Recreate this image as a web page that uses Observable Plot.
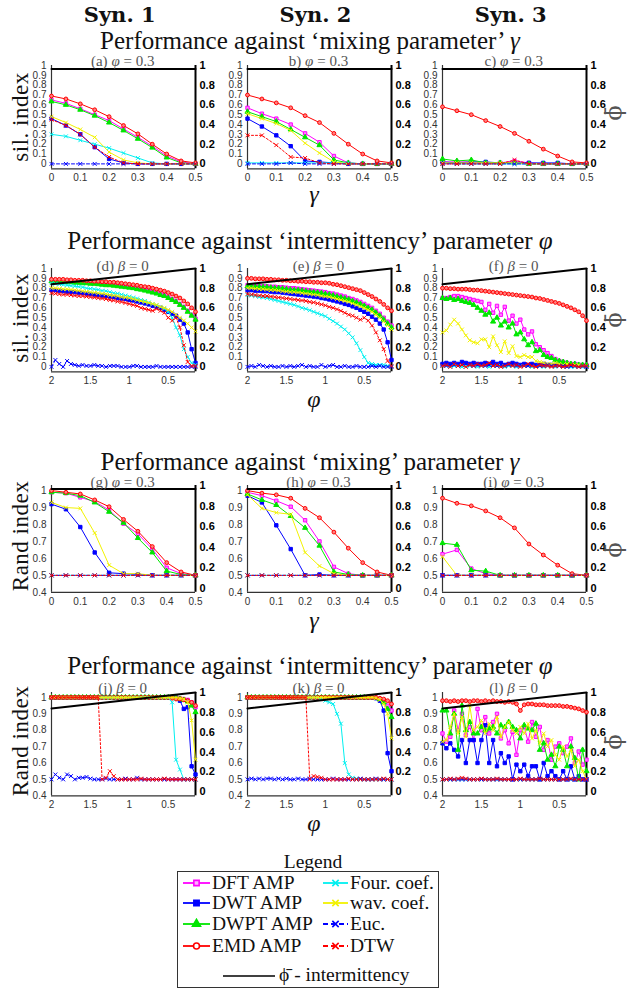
<!DOCTYPE html>
<html><head><meta charset="utf-8">
<script src="https://cdn.jsdelivr.net/npm/d3@7"></script>
<script src="https://cdn.jsdelivr.net/npm/@observablehq/plot@0.6"></script>
<style>
body{margin:0;background:#fff}
#root{position:relative;width:633px;height:990px;overflow:hidden;background:#fff}
.t{position:absolute;white-space:nowrap;line-height:1;transform:translate(-50%,-50%);font-family:"Liberation Serif","DejaVu Serif",serif;color:#111}
.l{position:absolute;white-space:nowrap;line-height:1;transform:translate(0,-50%);font-family:"Liberation Serif","DejaVu Serif",serif;color:#111;font-size:19.5px}
svg.p{position:absolute}
</style></head><body><div id="root"></div>
<script>
// ---------- axis values ----------
const mixX = [0,0.05,0.1,0.15,0.2,0.25,0.3,0.35,0.4,0.45,0.5];
const intX = [2,1.95,1.9,1.85,1.8,1.75,1.7,1.65,1.6,1.55,1.5,1.45,1.4,1.35,1.3,1.25,1.2,1.15,1.1,1.05,1,0.95,0.9,0.85,0.8,0.75,0.7,0.65,0.6,0.55,0.5,0.45,0.4,0.35,0.3,0.25,0.2,0.15];
const mixTicks = [0,0.1,0.2,0.3,0.4,0.5];
const intTicks = [2,1.5,1,0.5];
const silTicks = [0,0.1,0.2,0.3,0.4,0.5,0.6,0.7,0.8,0.9,1];
const randTicks = [0.4,0.5,0.6,0.7,0.8,0.9,1];
const phiTicks = [0,0.2,0.4,0.6,0.8,1];
const phiMixX = [0,0.5], phiMixVal = [0.965,0.965];
const phiIntX = [2,0.15], phiIntVal = [0.84,1.0];

// ---------- text ----------
const synLabels = ["Syn. 1","Syn. 2","Syn. 3"];
const rowTitles = ["Performance against ‘mixing parameter’ <i>γ</i>","Performance against ‘intermittency’ parameter <i>φ</i>","Performance against ‘mixing’ parameter <i>γ</i>","Performance against ‘intermittency’ parameter <i>φ</i>"];
const panelTitles = ["(a) <i>φ</i> = 0.3","b) <i>φ</i> = 0.3","c) <i>φ</i> = 0.3","(d) <i>β</i> = 0","(e) <i>β</i> = 0","(f) <i>β</i> = 0","(g) <i>φ</i> = 0.3","(h) <i>φ</i> = 0.3","(i) <i>φ</i> = 0.3","(j) <i>β</i> = 0","(k) <i>β</i> = 0","(l) <i>β</i> = 0"];
const yLabels = ["sil. index","sil. index","Rand index","Rand index"];
const xLabels = ["γ","φ","γ","φ"];
const methodNames = ["DFT AMP","DWT AMP","DWPT AMP","EMD AMP","Four. coef.","wav. coef.","Euc.","DTW"];
const phiLegend = "ϕ̄ - intermittency";

// ---------- (a) sil, mixing, Syn1 ----------
const a_DFT  = [0.65,0.615,0.56,0.50,0.44,0.355,0.27,0.18,0.08,0.02,0.0];
const a_DWT  = [0.46,0.39,0.30,0.17,0.05,0.01,0.0,0.0,0.0,0.0,0.0];
const a_DWPT = [0.635,0.60,0.55,0.49,0.42,0.34,0.255,0.165,0.065,0.01,0.0];
const a_EMD  = [0.69,0.66,0.61,0.55,0.48,0.39,0.305,0.20,0.10,0.03,0.01];
const a_Four = [0.30,0.28,0.24,0.20,0.16,0.11,0.06,0.01,0.0,0.0,0.0];
const a_wav  = [0.48,0.42,0.35,0.27,0.12,0.04,0.01,0.0,0.0,0.0,0.0];
const a_Euc  = [0,0,0,0,0,0,0,0,0,0,0];
const a_DTW  = [0.45,0.39,0.30,0.17,0.07,0.01,0,0,0,0,0];
// ---------- (b) ----------
const b_DFT  = [0.57,0.51,0.46,0.40,0.31,0.22,0.08,0.01,0.0,0.0,0.0];
const b_DWT  = [0.46,0.38,0.29,0.18,0.03,0.02,0.01,0.0,0.0,0.0,0.0];
const b_DWPT = [0.53,0.48,0.43,0.35,0.27,0.19,0.04,0.01,0.0,0.0,0.0];
const b_EMD  = [0.70,0.66,0.62,0.57,0.49,0.42,0.31,0.20,0.10,0.03,0.01];
const b_Four = [0.01,0.01,0.01,0.01,0.01,0.01,0.01,0.01,0.0,0.0,0.0];
const b_wav  = [0.51,0.46,0.41,0.34,0.21,0.11,0.02,0.0,0.0,0.0,0.0];
const b_Euc  = [0,0,0,0.01,0,0,0,0,0,0,0];
const b_DTW  = [0.29,0.29,0.19,0.07,0.06,0.01,0.0,0.0,0.0,0.0,0.0];
// ---------- (c) ----------
const c_DFT  = [0.02,0.02,0.02,0.01,0.01,0.03,0.01,0.0,0.0,0.0,0.0];
const c_DWT  = [0.02,0.01,0.02,0.02,0.01,0.01,0.01,0.01,0.01,0.0,0.0];
const c_DWPT = [0.05,0.03,0.04,0.01,0.01,0.01,0.0,0.0,0.0,0.0,0.0];
const c_EMD  = [0.58,0.54,0.50,0.44,0.38,0.31,0.23,0.15,0.08,0.02,0.01];
const c_Four = [0.01,0,0,0,0,0,0,0,0,0,0];
const c_wav  = [0.01,0.01,0.01,0.01,0.01,0.01,0.0,0.0,0.0,0.0,0.0];
const c_Euc  = [0,0,0,0,0,0,0,0,0,0,0];
const c_DTW  = [0.0,0.0,0.0,0.0,0.0,0.04,0.0,0.0,0.0,0.0,0.0];
// ---------- (d) sil, intermittency, Syn1 ----------
const d_DFT  = [0.875,0.875,0.87,0.87,0.87,0.865,0.865,0.86,0.86,0.855,0.855,0.85,0.85,0.845,0.84,0.84,0.835,0.83,0.825,0.82,0.815,0.81,0.80,0.795,0.785,0.775,0.765,0.755,0.74,0.73,0.71,0.69,0.67,0.64,0.61,0.57,0.53,0.49];
const d_DWT  = [0.78,0.78,0.775,0.77,0.765,0.76,0.76,0.755,0.75,0.745,0.74,0.735,0.73,0.725,0.72,0.715,0.71,0.70,0.695,0.69,0.68,0.675,0.665,0.655,0.645,0.635,0.62,0.61,0.60,0.58,0.56,0.54,0.52,0.48,0.44,0.35,0.18,0.04];
const d_DWPT = [0.87,0.87,0.865,0.865,0.86,0.86,0.855,0.855,0.85,0.85,0.845,0.845,0.84,0.835,0.83,0.83,0.825,0.82,0.815,0.81,0.805,0.80,0.79,0.785,0.775,0.765,0.755,0.745,0.73,0.72,0.70,0.68,0.66,0.63,0.60,0.56,0.52,0.48];
const d_EMD  = [0.89,0.89,0.89,0.89,0.885,0.885,0.88,0.88,0.88,0.875,0.875,0.87,0.87,0.865,0.865,0.86,0.86,0.855,0.85,0.845,0.84,0.835,0.83,0.82,0.815,0.81,0.80,0.79,0.78,0.77,0.755,0.74,0.72,0.70,0.67,0.64,0.60,0.56];
const d_Four = [0.85,0.845,0.84,0.835,0.83,0.825,0.82,0.815,0.81,0.80,0.795,0.79,0.785,0.775,0.77,0.76,0.75,0.745,0.735,0.725,0.715,0.705,0.695,0.68,0.67,0.655,0.64,0.625,0.61,0.59,0.56,0.50,0.40,0.32,0.18,0.10,0.04,0.02];
const d_wav  = [0.80,0.80,0.795,0.79,0.79,0.785,0.78,0.775,0.77,0.765,0.76,0.755,0.75,0.745,0.74,0.73,0.725,0.72,0.71,0.705,0.70,0.69,0.68,0.67,0.66,0.65,0.64,0.63,0.61,0.60,0.58,0.56,0.53,0.50,0.47,0.44,0.40,0.36];
const d_Euc  = [0.0,0.07,0.03,0.0,0.06,0.03,0.02,0.01,0.02,0.01,0.01,0.02,0.01,0.01,0.0,0.01,0.01,0.01,0.0,0.0,0.0,0.01,0.01,0.0,0.0,0.0,0.0,0.01,0.0,0.0,0.0,0.0,0.0,0.0,0.0,0.0,0.0,0.0];
const d_DTW  = [0.75,0.745,0.74,0.735,0.735,0.73,0.725,0.72,0.72,0.715,0.71,0.705,0.70,0.695,0.69,0.68,0.675,0.665,0.66,0.65,0.64,0.63,0.62,0.60,0.59,0.58,0.57,0.59,0.57,0.55,0.50,0.47,0.50,0.40,0.22,0.05,0.01,0.01];
// ---------- (e) ----------
const e_DFT  = [0.83,0.83,0.825,0.825,0.82,0.82,0.815,0.815,0.81,0.81,0.805,0.80,0.80,0.795,0.79,0.785,0.78,0.775,0.77,0.765,0.76,0.75,0.745,0.735,0.725,0.715,0.70,0.69,0.675,0.66,0.64,0.62,0.60,0.57,0.54,0.50,0.46,0.42];
const e_DWT  = [0.78,0.78,0.775,0.775,0.77,0.77,0.765,0.76,0.76,0.755,0.75,0.745,0.74,0.735,0.73,0.725,0.72,0.715,0.71,0.70,0.695,0.685,0.675,0.665,0.655,0.64,0.63,0.615,0.60,0.58,0.56,0.54,0.51,0.48,0.44,0.38,0.25,0.07];
const e_DWPT = [0.82,0.82,0.815,0.815,0.81,0.81,0.805,0.80,0.80,0.795,0.79,0.785,0.78,0.78,0.775,0.77,0.765,0.76,0.755,0.75,0.74,0.735,0.725,0.715,0.705,0.695,0.685,0.67,0.655,0.64,0.62,0.60,0.58,0.55,0.52,0.48,0.44,0.40];
const e_EMD  = [0.90,0.90,0.895,0.895,0.895,0.89,0.89,0.885,0.885,0.88,0.88,0.875,0.875,0.87,0.87,0.865,0.865,0.86,0.86,0.855,0.855,0.85,0.84,0.835,0.825,0.815,0.805,0.795,0.785,0.775,0.755,0.735,0.715,0.69,0.665,0.635,0.60,0.57];
const e_Four = [0.73,0.725,0.72,0.71,0.705,0.70,0.69,0.68,0.67,0.66,0.65,0.64,0.63,0.615,0.60,0.59,0.575,0.56,0.545,0.53,0.515,0.49,0.465,0.44,0.41,0.38,0.34,0.30,0.24,0.17,0.10,0.04,0.03,0.02,0.02,0.02,0.01,0.01];
const e_wav  = [0.80,0.80,0.795,0.79,0.79,0.785,0.78,0.78,0.775,0.77,0.765,0.76,0.76,0.755,0.75,0.745,0.74,0.735,0.73,0.72,0.715,0.71,0.70,0.69,0.68,0.67,0.66,0.645,0.63,0.615,0.60,0.58,0.56,0.53,0.50,0.46,0.42,0.38];
const e_Euc  = [0.0,0.01,0.0,0.02,0.01,0.0,0.01,0.0,0.0,0.01,0.0,0.01,0.0,0.01,0.02,0.0,0.01,0.0,0.0,0.02,0.0,0.01,0.02,0.0,0.0,0.01,0.0,0.0,0.01,0.0,0.0,0.0,0.01,0.0,0.01,0.0,0.0,0.0];
const e_DTW  = [0.74,0.735,0.73,0.725,0.72,0.72,0.715,0.71,0.705,0.70,0.695,0.69,0.685,0.68,0.675,0.67,0.66,0.655,0.645,0.635,0.625,0.61,0.60,0.585,0.57,0.55,0.53,0.52,0.50,0.48,0.50,0.47,0.42,0.35,0.27,0.18,0.06,0.01];
// ---------- (f) ----------
const f_DFT  = [0.70,0.70,0.71,0.72,0.72,0.71,0.70,0.69,0.68,0.67,0.66,0.58,0.64,0.55,0.62,0.53,0.61,0.47,0.52,0.44,0.48,0.38,0.33,0.36,0.23,0.20,0.17,0.14,0.11,0.08,0.06,0.05,0.04,0.03,0.03,0.02,0.02,0.02];
const f_DWT  = [0.03,0.04,0.03,0.04,0.03,0.05,0.04,0.03,0.04,0.03,0.03,0.04,0.03,0.05,0.03,0.04,0.02,0.03,0.04,0.03,0.02,0.03,0.02,0.03,0.02,0.02,0.03,0.02,0.02,0.02,0.03,0.02,0.02,0.01,0.02,0.02,0.01,0.01];
const f_DWPT = [0.70,0.69,0.70,0.68,0.69,0.67,0.66,0.65,0.63,0.60,0.57,0.53,0.55,0.46,0.50,0.42,0.46,0.40,0.44,0.33,0.35,0.28,0.22,0.25,0.16,0.17,0.12,0.10,0.09,0.07,0.06,0.05,0.04,0.03,0.03,0.02,0.02,0.02];
const f_EMD  = [0.80,0.80,0.795,0.795,0.79,0.79,0.79,0.785,0.78,0.78,0.775,0.77,0.765,0.76,0.755,0.75,0.745,0.74,0.735,0.73,0.725,0.72,0.715,0.71,0.70,0.695,0.685,0.675,0.665,0.655,0.645,0.63,0.615,0.60,0.58,0.56,0.52,0.47];
const f_Four = [0.01,0.01,0.0,0.01,0.01,0.0,0.01,0.01,0.01,0.0,0.01,0.01,0.0,0.01,0.01,0.01,0.0,0.01,0.01,0.0,0.01,0.01,0.01,0.0,0.01,0.01,0.0,0.01,0.01,0.0,0.01,0.0,0.01,0.0,0.0,0.01,0.0,0.0];
const f_wav  = [0.35,0.37,0.43,0.48,0.44,0.38,0.32,0.27,0.25,0.24,0.28,0.28,0.20,0.31,0.22,0.15,0.26,0.14,0.21,0.11,0.10,0.12,0.10,0.10,0.06,0.05,0.04,0.03,0.03,0.04,0.03,0.02,0.03,0.02,0.02,0.02,0.01,0.01];
const f_Euc  = [0.02,0.01,0.02,0.02,0.01,0.02,0.03,0.02,0.01,0.02,0.02,0.01,0.02,0.02,0.01,0.02,0.01,0.02,0.02,0.01,0.02,0.01,0.01,0.02,0.01,0.01,0.01,0.02,0.01,0.01,0.01,0.01,0.0,0.01,0.01,0.0,0.01,0.0];
const f_DTW  = [0.01,0.02,0.0,0.03,0.01,0.02,0.0,0.02,0.01,0.03,0.01,0.02,0.04,0.01,0.02,0.0,0.01,0.03,0.01,0.02,0.0,0.01,0.03,0.01,0.0,0.02,0.01,0.01,0.0,0.01,0.01,0.0,0.01,0.02,0.01,0.0,0.01,0.01];
// ---------- (g) Rand, mixing ----------
const g_DFT  = [0.99,0.985,0.96,0.935,0.885,0.805,0.745,0.655,0.545,0.51,0.50];
const g_DWT  = [0.92,0.89,0.785,0.635,0.515,0.51,0.505,0.50,0.50,0.50,0.50];
const g_DWPT = [0.99,0.985,0.97,0.93,0.875,0.81,0.72,0.635,0.525,0.505,0.50];
const g_EMD  = [1.0,0.99,0.98,0.945,0.905,0.83,0.76,0.67,0.575,0.52,0.50];
const g_Four = [0.5,0.5,0.5,0.5,0.5,0.5,0.5,0.5,0.5,0.5,0.5];
const g_wav  = [0.93,0.90,0.895,0.75,0.56,0.51,0.51,0.50,0.50,0.50,0.50];
const g_Euc  = [0.5,0.5,0.5,0.5,0.5,0.5,0.5,0.5,0.5,0.5,0.5];
const g_DTW  = [0.5,0.5,0.5,0.5,0.5,0.5,0.5,0.5,0.5,0.5,0.5];
// ---------- (h) ----------
const h_DFT  = [0.99,0.97,0.94,0.905,0.825,0.70,0.55,0.51,0.50,0.50,0.50];
const h_DWT  = [0.97,0.93,0.795,0.655,0.50,0.505,0.50,0.50,0.50,0.50,0.50];
const h_DWPT = [0.98,0.945,0.915,0.85,0.78,0.675,0.52,0.505,0.50,0.50,0.50];
const h_EMD  = [1.0,0.985,0.975,0.955,0.895,0.84,0.755,0.66,0.575,0.52,0.50];
const h_Four = [0.5,0.5,0.5,0.5,0.5,0.5,0.5,0.5,0.5,0.5,0.5];
const h_wav  = [0.975,0.895,0.87,0.86,0.635,0.555,0.51,0.50,0.50,0.50,0.50];
const h_Euc  = [0.5,0.5,0.5,0.5,0.5,0.5,0.5,0.5,0.5,0.5,0.5];
const h_DTW  = [0.5,0.5,0.5,0.5,0.5,0.5,0.5,0.5,0.5,0.5,0.5];
// ---------- (i) ----------
const i_DFT  = [0.625,0.65,0.54,0.51,0.50,0.50,0.50,0.50,0.50,0.50,0.50];
const i_DWT  = [0.5,0.5,0.5,0.5,0.5,0.5,0.5,0.5,0.5,0.5,0.5];
const i_DWPT = [0.69,0.68,0.53,0.525,0.50,0.50,0.50,0.50,0.50,0.50,0.50];
const i_EMD  = [0.955,0.925,0.91,0.88,0.84,0.78,0.685,0.62,0.56,0.51,0.50];
const i_Four = [0.5,0.5,0.5,0.5,0.5,0.5,0.5,0.5,0.5,0.5,0.5];
const i_wav  = [0.61,0.50,0.50,0.50,0.50,0.50,0.50,0.50,0.50,0.50,0.50];
const i_Euc  = [0.5,0.5,0.5,0.5,0.5,0.5,0.5,0.5,0.5,0.5,0.5];
const i_DTW  = [0.5,0.5,0.5,0.5,0.5,0.5,0.5,0.5,0.5,0.5,0.5];
// ---------- (j) Rand, intermittency ----------
const j_DFT  = [1,1,1,1,1,1,1,1,1,1,1,1,1,1,1,1,1,1,1,1,1,1,1,1,1,1,1,1,1,1,1,1,1,0.995,0.99,0.985,0.97,0.94];
const j_DWT  = [1,1,1,1,1,1,1,1,1,1,1,1,1,1,1,1,1,1,1,1,1,1,1,1,1,1,1,1,1,1,1,1,1,0.98,0.93,0.94,0.58,0.53];
const j_DWPT = [1,1,1,1,1,1,1,1,1,1,1,1,1,1,1,1,1,1,1,1,1,1,1,1,1,1,1,1,1,1,1,1,0.995,0.99,0.985,0.975,0.95,0.91];
const j_EMD  = [1,1,1,1,1,1,1,1,1,1,1,1,1,1,1,1,1,1,1,1,1,1,1,1,1,1,1,1,1,1,1,0.995,0.99,0.99,0.985,0.98,0.97,0.95];
const j_Four = [1,1,1,1,1,1,1,1,1,1,1,1,1,1,1,1,1,1,1,1,1,1,1,1,1,1,1,1,1,1,1,0.97,0.62,0.56,0.50,0.50,0.50,0.50];
const j_wav  = [1,1,1,1,1,1,1,1,1,1,1,1,1,1,1,1,1,1,1,1,1,1,1,1,1,1,1,1,1,1,1,1,1,0.995,0.99,0.97,0.86,0.62];
const j_Euc  = [0.50,0.53,0.51,0.50,0.53,0.52,0.50,0.51,0.51,0.515,0.505,0.50,0.50,0.50,0.505,0.50,0.50,0.50,0.50,0.505,0.50,0.50,0.51,0.50,0.50,0.50,0.50,0.50,0.50,0.50,0.50,0.50,0.50,0.50,0.50,0.50,0.50,0.50];
const j_DTW  = [1,1,1,1,1,1,1,1,1,1,1,1,1,0.50,0.51,0.55,0.52,0.50,0.50,0.50,0.50,0.50,0.50,0.505,0.50,0.50,0.50,0.50,0.50,0.505,0.50,0.50,0.50,0.50,0.50,0.50,0.50,0.50];
// ---------- (k) ----------
const k_DFT  = [1,1,1,1,1,1,1,1,1,1,1,1,1,1,1,1,1,1,1,1,1,1,1,1,1,1,1,1,1,1,1,1,1,1,0.99,0.98,0.95,0.92];
const k_DWT  = [1,1,1,1,1,1,1,1,1,1,1,1,1,1,1,1,1,1,1,1,1,1,1,1,1,1,1,1,1,1,1,1,1,0.995,0.98,0.92,0.66,0.55];
const k_DWPT = [1,1,1,1,1,1,1,1,1,1,1,1,1,1,1,1,1,1,1,1,1,1,1,1,1,1,1,1,1,1,1,1,1,1,0.99,0.97,0.93,0.88];
const k_EMD  = [1,1,1,1,1,1,1,1,1,1,1,1,1,1,1,1,1,1,1,1,1,1,1,1,1,1,1,1,1,1,1,1,1,1,0.995,0.99,0.98,0.96];
const k_Four = [1,1,1,1,1,1,1,1,1,1,1,1,1,1,1,1,1,1,1,0.99,0.98,0.97,0.96,0.90,0.84,0.60,0.53,0.51,0.505,0.50,0.50,0.50,0.50,0.50,0.50,0.50,0.50,0.50];
const k_wav  = [1,1,1,1,1,1,1,1,1,1,1,1,1,1,1,1,1,1,1,1,1,1,1,1,1,1,1,1,1,1,1,1,1,0.995,0.985,0.96,0.90,0.75];
const k_Euc  = [0.50,0.505,0.50,0.505,0.50,0.505,0.505,0.50,0.505,0.50,0.505,0.50,0.50,0.505,0.50,0.50,0.505,0.50,0.50,0.50,0.50,0.50,0.505,0.50,0.50,0.50,0.50,0.50,0.50,0.505,0.50,0.50,0.50,0.505,0.50,0.50,0.50,0.50];
const k_DTW  = [1,1,1,1,1,1,1,1,1,1,1,1,1,1,1,1,0.50,0.52,0.515,0.51,0.50,0.50,0.50,0.50,0.50,0.50,0.505,0.50,0.50,0.50,0.50,0.50,0.50,0.50,0.50,0.505,0.50,0.50];
// ---------- (l) ----------
const l_DFT  = [0.78,0.73,0.76,0.92,0.80,0.90,0.77,0.82,0.74,0.93,0.80,0.88,0.78,0.85,0.90,0.75,0.80,0.72,0.79,0.65,0.80,0.82,0.73,0.85,0.76,0.82,0.68,0.74,0.62,0.70,0.72,0.66,0.70,0.75,0.60,0.67,0.59,0.62];
const l_DWT  = [0.72,0.69,0.72,0.68,0.64,0.74,0.60,0.74,0.74,0.60,0.74,0.83,0.60,0.74,0.58,0.66,0.60,0.64,0.50,0.59,0.55,0.59,0.52,0.58,0.58,0.50,0.60,0.52,0.55,0.52,0.50,0.55,0.50,0.58,0.50,0.52,0.50,0.50];
const l_DWPT = [0.92,0.92,0.78,0.90,0.68,0.95,0.80,0.85,0.78,0.78,0.82,0.80,0.81,0.82,0.78,0.83,0.82,0.85,0.82,0.80,0.75,0.83,0.81,0.80,0.84,0.68,0.72,0.62,0.65,0.58,0.70,0.68,0.58,0.70,0.63,0.50,0.68,0.55];
const l_EMD  = [0.98,0.98,0.975,0.98,0.975,0.98,0.98,0.975,0.98,0.98,0.975,0.98,0.975,0.98,0.975,0.975,0.97,0.975,0.97,0.96,0.92,0.955,0.96,0.96,0.955,0.955,0.955,0.95,0.95,0.95,0.95,0.945,0.945,0.94,0.935,0.93,0.92,0.91];
const l_Four = [0.5,0.5,0.5,0.5,0.5,0.5,0.5,0.5,0.5,0.5,0.5,0.5,0.5,0.5,0.5,0.5,0.5,0.5,0.5,0.5,0.5,0.5,0.5,0.5,0.5,0.5,0.5,0.5,0.5,0.5,0.5,0.5,0.5,0.5,0.5,0.5,0.5,0.5];
const l_wav  = [0.73,0.74,0.82,0.90,0.78,0.88,0.76,0.95,0.80,0.82,0.86,0.78,0.84,0.80,0.88,0.76,0.82,0.85,0.80,0.78,0.82,0.78,0.84,0.75,0.80,0.72,0.78,0.70,0.74,0.65,0.62,0.70,0.64,0.68,0.58,0.62,0.55,0.50];
const l_Euc  = [0.5,0.5,0.5,0.5,0.5,0.5,0.5,0.5,0.5,0.5,0.5,0.5,0.5,0.5,0.5,0.5,0.5,0.5,0.5,0.5,0.5,0.5,0.5,0.5,0.5,0.5,0.5,0.5,0.5,0.5,0.5,0.5,0.5,0.5,0.5,0.5,0.5,0.5];
const l_DTW  = [0.50,0.50,0.505,0.50,0.505,0.51,0.505,0.50,0.50,0.50,0.505,0.50,0.50,0.50,0.505,0.50,0.50,0.50,0.50,0.50,0.505,0.50,0.50,0.50,0.50,0.505,0.50,0.50,0.50,0.50,0.50,0.50,0.50,0.505,0.50,0.50,0.50,0.50];

// ---------- styles (order = legend order) ----------
const STYLE = [
  {stroke:"#ff00ff", symbol:"square",   fill:"#ff80ff"},
  {stroke:"#0000ff", symbol:"square",   fill:"#0000ff"},
  {stroke:"#00e600", symbol:"triangle", fill:"#00e600"},
  {stroke:"#ff0000", symbol:"circle",   fill:"#ff8080"},
  {stroke:"#00f0f0", symbol:"times",    fill:"none"},
  {stroke:"#f2f200", symbol:"times",    fill:"none"},
  {stroke:"#0000ff", symbol:"times",    fill:"none", dash:"3,2"},
  {stroke:"#ff0000", symbol:"times",    fill:"none", dash:"2,2"}
];

const panels = [
  {s:[a_DFT,a_DWT,a_DWPT,a_EMD,a_Four,a_wav,a_Euc,a_DTW], mode:"mix", kind:"sil"},
  {s:[b_DFT,b_DWT,b_DWPT,b_EMD,b_Four,b_wav,b_Euc,b_DTW], mode:"mix", kind:"sil"},
  {s:[c_DFT,c_DWT,c_DWPT,c_EMD,c_Four,c_wav,c_Euc,c_DTW], mode:"mix", kind:"sil"},
  {s:[d_DFT,d_DWT,d_DWPT,d_EMD,d_Four,d_wav,d_Euc,d_DTW], mode:"int", kind:"sil"},
  {s:[e_DFT,e_DWT,e_DWPT,e_EMD,e_Four,e_wav,e_Euc,e_DTW], mode:"int", kind:"sil"},
  {s:[f_DFT,f_DWT,f_DWPT,f_EMD,f_Four,f_wav,f_Euc,f_DTW], mode:"int", kind:"sil"},
  {s:[g_DFT,g_DWT,g_DWPT,g_EMD,g_Four,g_wav,g_Euc,g_DTW], mode:"mix", kind:"rand"},
  {s:[h_DFT,h_DWT,h_DWPT,h_EMD,h_Four,h_wav,h_Euc,h_DTW], mode:"mix", kind:"rand"},
  {s:[i_DFT,i_DWT,i_DWPT,i_EMD,i_Four,i_wav,i_Euc,i_DTW], mode:"mix", kind:"rand"},
  {s:[j_DFT,j_DWT,j_DWPT,j_EMD,j_Four,j_wav,j_Euc,j_DTW], mode:"int", kind:"rand"},
  {s:[k_DFT,k_DWT,k_DWPT,k_EMD,k_Four,k_wav,k_Euc,k_DTW], mode:"int", kind:"rand"},
  {s:[l_DFT,l_DWT,l_DWPT,l_EMD,l_Four,l_wav,l_Euc,l_DTW], mode:"int", kind:"rand"}
];

// ---------- layout ----------
const COLS = [50.7, 246.5, 441.7];
const PW = 144;
const ROWS = [{top:65,bottom:168.3},{top:268.3,bottom:371.6},{top:484.9,bottom:591.7},{top:691.7,bottom:795}];
const ML = 36, MR = 30, MT = 10, MB = 22;
const fmt = v => String(+(+v).toFixed(2));
const SANS = "Liberation Sans, Arial, Helvetica, sans-serif";

const root = document.getElementById("root");

function makePanel(p, idx) {
  const row = Math.floor(idx / 3), col = idx % 3;
  const R = ROWS[row];
  const isMix = p.mode === "mix", isSil = p.kind === "sil";
  const xDom = isMix ? [0, 0.5] : [2, 0.15];
  const yDom = isSil ? [-0.05, 1] : [0.4, 1.03];
  const toLeft = isSil ? (r => r) : (r => 0.4 + (r + 0.04) / 1.04 * 0.63);
  const xs = isMix ? mixX : intX;
  const W = ML + PW + MR, H = MT + (R.bottom - R.top) + MB;
  const marks = [
    Plot.ruleY([yDom[0]], {stroke:"#333", strokeWidth:1.2}),
    Plot.ruleX([xDom[0]], {stroke:"#333", strokeWidth:1.2}),
    Plot.ruleX([xDom[1]], {stroke:"#000", strokeWidth:2})
  ];
  p.s.forEach((arr, k) => {
    const st = STYLE[k];
    const data = xs.map((x, i) => ({x, y: arr[i]})).filter(d => d.y != null);
    const lo = {x:"x", y:"y", stroke: st.stroke, strokeWidth: 1};
    if (st.dash) lo.strokeDasharray = st.dash;
    marks.push(Plot.line(data, lo));
    marks.push(Plot.dot(data, {x:"x", y:"y", symbol: st.symbol, r: 1.9, stroke: st.stroke, fill: st.fill, strokeWidth: 1}));
  });
  const phX = isMix ? phiMixX : phiIntX, phV = isMix ? phiMixVal : phiIntVal;
  marks.push(Plot.line(phX.map((x, i) => ({x, v: phV[i]})), {x:"x", y: d => toLeft(d.v), stroke:"#000", strokeWidth: 2}));
  const yt = isSil ? silTicks : randTicks;
  marks.push(Plot.text(yt, {x: () => xDom[0], y: d => d, text: fmt, dx: -5, textAnchor:"end", fontSize: 10, fill:"#333", fontFamily: SANS}));
  marks.push(Plot.text(isMix ? mixTicks : intTicks, {x: d => d, y: () => yDom[0], text: fmt, dy: 9, fontSize: 10, fill:"#333", fontFamily: SANS}));
  marks.push(Plot.text(phiTicks, {x: () => xDom[1], y: d => toLeft(d), text: fmt, dx: 4, textAnchor:"start", fontSize: 11, fontWeight:"bold", fill:"#000", fontFamily: SANS}));
  const svg = Plot.plot({
    width: W, height: H, marginLeft: ML, marginRight: MR, marginTop: MT, marginBottom: MB,
    x: {domain: xDom, axis: null}, y: {domain: yDom, axis: null},
    style: {background: "transparent", overflow: "visible", maxWidth: "none"},
    marks
  });
  svg.classList.add("p");
  svg.style.left = (COLS[col] - ML) + "px";
  svg.style.top = (R.top - MT) + "px";
  root.appendChild(svg);
}
panels.forEach(makePanel);

function txt(html, x, y, css) {
  const d = document.createElement("div");
  d.className = "t"; d.innerHTML = html;
  d.style.left = x + "px"; d.style.top = y + "px";
  Object.assign(d.style, css || {});
  root.appendChild(d);
  return d;
}
const colCenters = COLS.map(c => c + PW / 2);
synLabels.forEach((s, i) => txt(s, colCenters[i] - 3, 14, {fontFamily:"DejaVu Serif, serif", fontWeight:"bold", fontSize:"21px"}));
const rowTitleY = [40, 240, 461, 665];
rowTitles.forEach((s, i) => txt(s, 310, rowTitleY[i], {fontSize:"25px"}));
const panelTitleY = [61, 266, 482, 688];
panelTitles.forEach((s, i) => txt(s, colCenters[i % 3], panelTitleY[Math.floor(i / 3)], {fontSize:"15px", color:"#555"}));
const yLabelY = [117, 318, 536, 741];
yLabels.forEach((s, i) => txt(s, 20, yLabelY[i], {fontSize:"23px", transform:"translate(-50%,-50%) rotate(-90deg)", letterSpacing:"0.5px"}));
const phiLabelY = [113, 320, 550, 742];
phiLabelY.forEach(y => txt("ϕ̄", 614, y, {fontFamily:"DejaVu Serif, serif", fontSize:"22px", color:"#555", transform:"translate(-50%,-50%) rotate(-90deg)"}));
const xLabelY = [194, 399, 620, 823];
xLabels.forEach((s, i) => txt("<i>" + s + "</i>", 314, xLabelY[i], {fontSize:"24px"}));

// ---------- legend ----------
txt("Legend", 313, 862, {fontSize:"19.5px"});
const box = document.createElement("div");
Object.assign(box.style, {position:"absolute", left:"177px", top:"871px", width:"260px", height:"115px", border:"1px solid #333"});
root.appendChild(box);
const legRowY = [883, 903, 923.5, 946];
const legCols = [{x0:183, x1:210, tx:212}, {x0:323, x1:348, tx:350}];
const symMap = {square: d3.symbolSquare, triangle: d3.symbolTriangle, circle: d3.symbolCircle, times: d3.symbolTimes};
methodNames.forEach((name, k) => {
  const st = STYLE[k];
  const c = legCols[k < 4 ? 0 : 1], y = legRowY[k % 4];
  const w = c.x1 - c.x0;
  const s = d3.create("svg").attr("width", w).attr("height", 12)
    .style("position", "absolute").style("left", c.x0 + "px").style("top", (y - 6) + "px");
  s.append("line").attr("x1", 0).attr("x2", w).attr("y1", 6).attr("y2", 6)
    .attr("stroke", st.stroke).attr("stroke-width", 1.8).attr("stroke-dasharray", st.dash ? "5,3" : null);
  s.append("path").attr("d", d3.symbol(symMap[st.symbol], 28)()).attr("transform", `translate(${w/2},6)`)
    .attr("stroke", st.stroke).attr("stroke-width", 1.6).attr("fill", st.symbol === "times" ? "none" : (st.symbol === "square" && k === 0 ? "#ffb0ff" : st.symbol === "circle" ? "#ffffff" : st.fill));
  root.appendChild(s.node());
  const d = document.createElement("div");
  d.className = "l"; d.textContent = name;
  d.style.left = c.tx + "px"; d.style.top = y + "px";
  root.appendChild(d);
});
const bl = d3.create("svg").attr("width", 52).attr("height", 6).style("position", "absolute").style("left", "223px").style("top", "973px");
bl.append("line").attr("x1", 0).attr("x2", 52).attr("y1", 3).attr("y2", 3).attr("stroke", "#000").attr("stroke-width", 1.6);
root.appendChild(bl.node());
const pl = document.createElement("div");
pl.className = "l"; pl.textContent = phiLegend;
pl.style.left = "279px"; pl.style.top = "975px";
root.appendChild(pl);
</script></body></html>
